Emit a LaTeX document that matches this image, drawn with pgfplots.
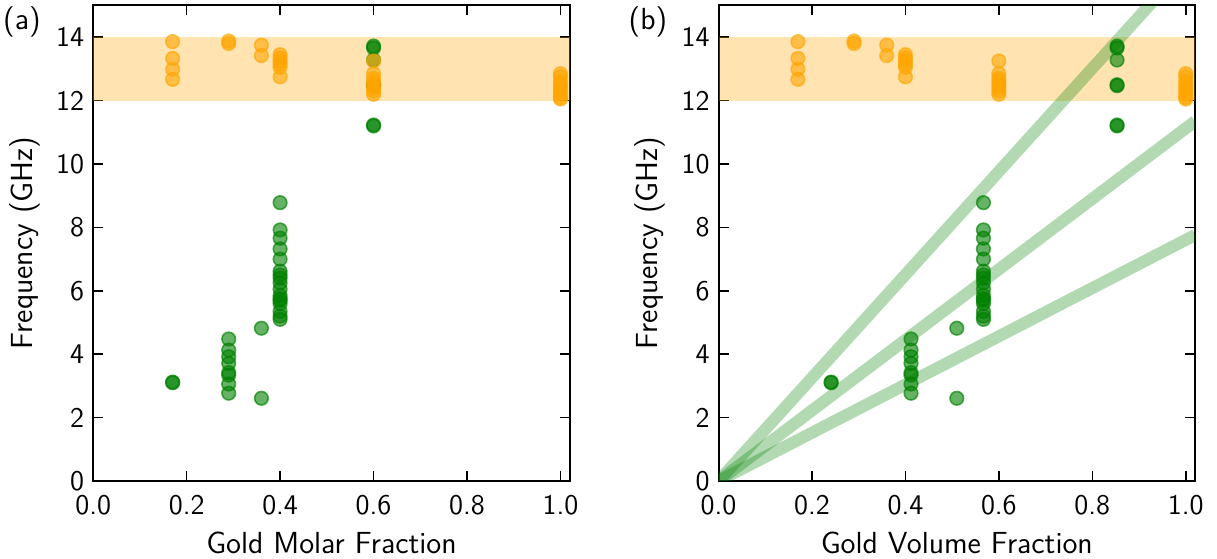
\documentclass[border=0pt]{standalone}
\usepackage{pgfplots}
\pgfplotsset{compat=1.18}
\renewcommand{\familydefault}{\sfdefault}
\definecolor{mgreen}{HTML}{008000}
\definecolor{morange}{HTML}{FFA500}
\pgfplotsset{myax/.style={scale only axis, width=238.3bp, height=237.75bp,
  anchor=south west,
  xmin=0, xmax=1.02, ymin=0, ymax=15,
  xtick={0,0.2,0.4,0.6,0.8,1.0}, ytick={0,2,4,6,8,10,12,14},
  tick align=inside, major tick length=5bp,
  xticklabel style={/pgf/number format/fixed, /pgf/number format/fixed zerofill, /pgf/number format/precision=1, yshift=-3.5bp},
  yticklabel style={xshift=-1bp},
  /pgf/number format/assume math mode=true,
  tick label style={font=\fontsize{14.3}{16}\selectfont},
  label style={font=\fontsize{15.3}{18}\selectfont},
  xlabel style={at={(axis description cs:0.5,-0.13)}, anchor=center},
  ylabel style={at={(axis description cs:-0.143,0.5)}, anchor=center, rotate=0},
  axis line style={line width=1bp},
  every tick/.style={black, line width=0.8bp},
  gpt/.style={only marks, mark=*, mark size=3.4bp, draw=mgreen, fill=mgreen, draw opacity=0.65, fill opacity=0.6, line width=0.8bp},
  opt/.style={only marks, mark=*, mark size=3.4bp, draw=morange, fill=morange, draw opacity=0.65, fill opacity=0.6, line width=0.8bp},
}}
\begin{document}
\begin{tikzpicture}
\path[use as bounding box] (0,0) rectangle (608.5bp,279.5bp);
\node[font=\fontsize{15.3}{18}\selectfont] at (11bp,268.5bp) {(a)};
\node[font=\fontsize{15.3}{18}\selectfont] at (324bp,268.5bp) {(b)};
\begin{axis}[myax, at={(46.6bp,39bp)}, xlabel={Gold Molar Fraction}, ylabel={Frequency (GHz)}]
\fill[morange, opacity=0.3] (axis cs:0,12) rectangle (axis cs:1.02,14);
\addplot[gpt] coordinates {
(0.17,3.12) (0.17,3.10)
(0.29,4.48) (0.29,4.13) (0.29,3.92) (0.29,3.71) (0.29,3.42) (0.29,3.34) (0.29,3.06) (0.29,2.77)
(0.36,4.82) (0.36,2.61)
(0.40,8.78) (0.40,7.92) (0.40,7.66) (0.40,7.32) (0.40,7.00) (0.40,6.62) (0.40,6.50) (0.40,6.40) (0.40,6.25) (0.40,6.05) (0.40,5.85) (0.40,5.75) (0.40,5.70) (0.40,5.60) (0.40,5.35) (0.40,5.20) (0.40,5.10)
(0.60,13.72) (0.60,13.66) (0.60,13.28) (0.60,12.50) (0.60,12.47) (0.60,11.23) (0.60,11.20)
};
\addplot[opt] coordinates {
(0.17,13.86) (0.17,13.33) (0.17,12.99) (0.17,12.67)
(0.29,13.88) (0.29,13.80)
(0.36,13.75) (0.36,13.42)
(0.40,13.45) (0.40,13.35) (0.40,13.25) (0.40,13.15) (0.40,13.05) (0.40,12.75)
(0.60,13.25) (0.60,12.85) (0.60,12.70) (0.60,12.60) (0.60,12.50) (0.60,12.40) (0.60,12.30) (0.60,12.20)
(1.00,12.85) (1.00,12.75) (1.00,12.60) (1.00,12.50) (1.00,12.40) (1.00,12.30) (1.00,12.20) (1.00,12.10) (1.00,12.05)
};
\end{axis}
\begin{axis}[myax, at={(359.25bp,39bp)}, xlabel={Gold Volume Fraction}, ylabel={Frequency (GHz)}]
\fill[morange, opacity=0.3] (axis cs:0,12) rectangle (axis cs:1.02,14);
\addplot[mgreen, opacity=0.3, line width=6bp] coordinates {(0,0) (1.02,16.6)};
\addplot[mgreen, opacity=0.3, line width=6bp] coordinates {(0,0) (1.02,11.35)};
\addplot[mgreen, opacity=0.3, line width=6bp] coordinates {(0,0) (1.02,7.76)};
\addplot[gpt] coordinates {
(0.241,3.12) (0.241,3.10)
(0.412,4.48) (0.412,4.13) (0.412,3.92) (0.412,3.71) (0.412,3.42) (0.412,3.34) (0.412,3.06) (0.412,2.77)
(0.51,4.82) (0.51,2.61)
(0.567,8.78) (0.567,7.92) (0.567,7.66) (0.567,7.32) (0.567,7.00) (0.567,6.62) (0.567,6.50) (0.567,6.40) (0.567,6.25) (0.567,6.05) (0.567,5.85) (0.567,5.75) (0.567,5.70) (0.567,5.60) (0.567,5.35) (0.567,5.20) (0.567,5.10)
(0.853,13.72) (0.853,13.66) (0.853,13.28) (0.853,12.50) (0.853,12.47) (0.853,11.23) (0.853,11.20)
};
\addplot[opt] coordinates {
(0.17,13.86) (0.17,13.33) (0.17,12.99) (0.17,12.67)
(0.29,13.88) (0.29,13.80)
(0.36,13.75) (0.36,13.42)
(0.40,13.45) (0.40,13.35) (0.40,13.25) (0.40,13.15) (0.40,13.05) (0.40,12.75)
(0.60,13.25) (0.60,12.85) (0.60,12.70) (0.60,12.60) (0.60,12.50) (0.60,12.40) (0.60,12.30) (0.60,12.20)
(1.00,12.85) (1.00,12.75) (1.00,12.60) (1.00,12.50) (1.00,12.40) (1.00,12.30) (1.00,12.20) (1.00,12.10) (1.00,12.05)
};
\end{axis}
\end{tikzpicture}
\end{document}
